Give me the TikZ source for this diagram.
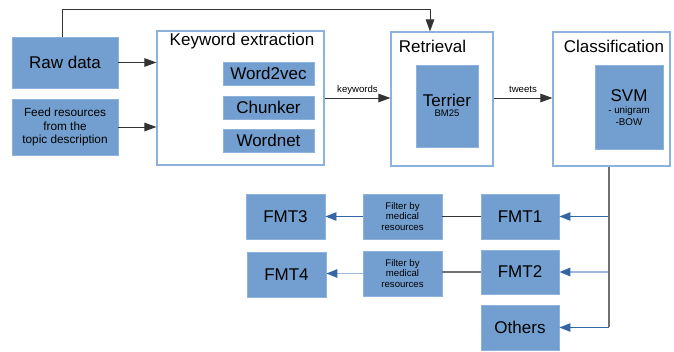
\documentclass[tikz,border=0pt]{standalone}
\usepackage{fontspec}
\setmainfont{Liberation Sans}
\usetikzlibrary{arrows.meta}
\definecolor{boxfill}{HTML}{729FCF}
\definecolor{boxedge}{HTML}{8DB2DC}
\definecolor{darkblue}{HTML}{3465A4}
\definecolor{paleblue}{HTML}{9DB9DD}
\definecolor{wire}{HTML}{333333}
\definecolor{greywire}{HTML}{707070}
\tikzset{
  fs/.style={font=\fontsize{#1pt}{1.13\dimexpr#1pt\relax}\selectfont},
  filled/.style={draw=boxedge, line width=0.9pt, fill=boxfill, inner sep=0pt, align=center, text=black},
  stage/.style={draw=boxedge, line width=1.1pt, fill=white, inner sep=0pt},
  title/.style={anchor=base, inner sep=0pt, fs=17},
  tip/.style={-{Triangle[length=12pt,width=8.5pt]}},
  conn/.style={draw=wire, line width=0.9pt, tip},
  bconn/.style={draw=darkblue, line width=0.9pt, -{Triangle[length=11pt,width=8.5pt,fill=darkblue]}},
  pconn/.style={draw=paleblue, line width=1.4pt, -{Triangle[length=11pt,width=8.5pt,fill=darkblue,color=darkblue]}},
}
\begin{document}
\begin{tikzpicture}[x=1pt, y=-1pt]
\useasboundingbox (0,0) rectangle (674,352);

% input boxes
\node[filled, minimum width=106pt, minimum height=51pt, fs=17] (raw) at (65,62.5) {Raw data};
\node[filled, minimum width=106pt, minimum height=56pt, fs=11.8] (feed) at (65,127) {Feed resources\\from the\\topic description};

% keyword extraction stage
\node[stage, minimum width=167pt, minimum height=134pt] (kw) at (240.5,98) {};
\node[title] (kwt) at (242,46) {Keyword extraction};
\node[filled, minimum width=91pt, minimum height=23pt, fs=17] (w2v) at (268.5,73.5) {Word2vec};
\node[filled, minimum width=91pt, minimum height=23pt, fs=17] (chk) at (268.5,107.5) {Chunker};
\node[filled, minimum width=91pt, minimum height=23pt, fs=17] (wnt) at (268.5,140.5) {Wordnet};

% retrieval stage
\node[stage, minimum width=102pt, minimum height=134pt] (ret) at (442,99) {};
\node[title] (rett) at (432.5,53) {Retrieval};
\node[filled, minimum width=62pt, minimum height=82pt] (ter) at (447,106) {};
\node[anchor=base, inner sep=0pt, fs=17] (tert) at (447,107) {Terrier};
\node[anchor=base, inner sep=0pt, fs=9.5] (bm) at (447,117) {BM25};

% classification stage
\node[stage, minimum width=117pt, minimum height=134pt] (cls) at (611.5,99) {};
\node[title] (clst) at (614,53) {Classification};
\node[filled, minimum width=68pt, minimum height=84pt] (svm) at (629,107) {};
\node[anchor=base, inner sep=0pt, fs=17] (svmt) at (629,102) {SVM};
\node[anchor=base, inner sep=0pt, fs=9.8] (svm1) at (629,114) {- unigram};
\node[anchor=base, inner sep=0pt, fs=9.8] (svm2) at (629,126) {-BOW};

% output classes
\node[filled, minimum width=78pt, minimum height=45pt, fs=17] (f1) at (520,216.5) {FMT1};
\node[filled, minimum width=78pt, minimum height=44pt, fs=17] (f2) at (520,272) {FMT2};
\node[filled, minimum width=78pt, minimum height=45pt, fs=17] (oth) at (520,327.5) {Others};
\node[filled, minimum width=79pt, minimum height=45pt, fs=9.6] (flt1) at (402.5,216.5) {Filter by\\medical\\resources};
\node[filled, minimum width=79pt, minimum height=45pt, fs=9.6] (flt2) at (402.5,273.5) {Filter by\\medical\\resources};
\node[filled, minimum width=79pt, minimum height=45pt, fs=17] (f3) at (285.5,216.5) {FMT3};
\node[filled, minimum width=79pt, minimum height=45pt, fs=17] (f4) at (286.5,274.5) {FMT4};

% connectors of the pipeline
\coordinate (up1) at (62,9);
\coordinate (up2) at (430,9);
\draw[conn] (raw.north -| up1) -- (up1) -- (up2) -- (ret.north -| up2);
\draw[conn] (raw.east) -- (kw.west |- raw.east);
\draw[conn] (feed.east) -- (kw.west |- feed.east);
\draw[conn] (kw.east |- 0,98) -- node[above=3pt, fs=9.6, inner sep=0pt] {keywords} (ret.west |- 0,98);
\draw[conn] (ret.east |- 0,98) -- node[above=5pt, fs=9.6, inner sep=0pt] {tweets} (cls.west |- 0,98);

% distribution of classified tweets
\coordinate (bus) at (609,327);
\draw[bconn] (bus |- f1.east) -- (f1.east);
\draw[pconn] (bus |- f2.east) -- (f2.east);
\draw[bconn] (bus |- oth.east) -- (oth.east);
\draw[greywire, line width=1.2pt] (cls.south -| bus) -- (bus);

% filtering branch
\draw[wire, line width=0.9pt] (f1.west) -- (flt1.east |- f1.west);
\draw[greywire, line width=1.2pt] (f2.west) -- (flt2.east |- f2.west);
\draw[bconn] (flt1.west) -- (f3.east |- flt1.west);
\draw[pconn] (flt2.west) -- (f4.east |- flt2.west);
\end{tikzpicture}
\end{document}
